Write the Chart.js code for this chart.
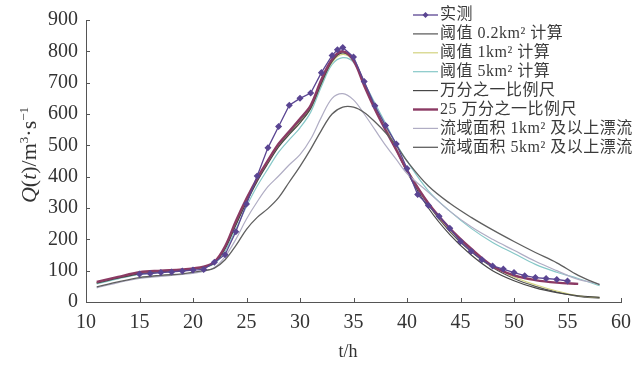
<!DOCTYPE html>
<html><head><meta charset="utf-8">
<script src="https://cdn.jsdelivr.net/npm/chart.js@4/dist/chart.umd.min.js"></script>
<style>html,body{margin:0;padding:0;background:#fff;}#wrap{width:643px;height:366px;position:relative;}</style>
</head><body><div id="wrap"><canvas id="c" width="643" height="366"></canvas></div>
<script>
const xTicks = [10,15,20,25,30,35,40,45,50,55,60];
const yTicks = [0,100,200,300,400,500,600,700,800,900];
const seriesNames = ["实测","阈值 0.2km² 计算","阈值 1km² 计算","阈值 5km² 计算","万分之一比例尺","25 万分之一比例尺","流域面积 1km² 及以上漂流","流域面积 5km² 及以上漂流"];
const obsTime = [15,16,17,18,19,20,21,22,23,24,25,26,27,28,29,30,31,32,33,33.5,34,35,36,37,38,39,40,41,42,43,44,45,46,47,48,49,50,51,52,53,54,55];
const obsQ    = [89,91,94,96,99,102,104,127,151,224,313,402,492,560,628,650,667,732,787,805,812,782,704,626,563,504,426,343,308,274,235,193,162,135,115,105,94,84,78,75,72,67];
const simTime = [11,13,15,17,19,21,22,23,24,25,26,27,28,29,30,31,32,33,34,35,36,37,38,39,40,42,44,46,48,50,52,54,56,58];
const qT02  = [62,78,92,98,103,112,125,172,248,322,390,448,500,540,578,622,700,770,800,775,700,625,555,490,420,310,225,160,110,75,50,32,18,12];
const qT1   = [62,78,92,98,103,112,126,175,252,325,390,445,497,536,573,618,695,765,790,770,700,625,555,490,425,315,230,165,115,80,55,35,20,14];
const qT5   = [58,74,88,95,100,110,122,162,232,305,370,425,478,518,556,606,688,758,780,765,700,635,570,505,450,355,290,235,190,155,120,95,75,52];
const qS1w  = [60,76,90,97,102,110,124,170,245,318,385,442,495,535,572,618,698,768,795,770,695,620,550,485,415,300,215,150,100,68,45,30,20,15];
const qS25w = [64,80,95,100,104,113,128,178,258,330,395,452,505,545,585,628,710,775,800,770,690,615,548,485,420,315,235,170,115,85,70,62,58,null];
const qA1   = [45,62,75,82,88,98,110,145,200,265,320,368,402,438,470,520,590,650,665,645,600,550,500,455,410,350,290,240,200,165,130,100,72,58];
const qA5   = [48,64,78,85,90,100,108,135,180,232,270,298,333,383,433,488,548,600,622,622,605,575,540,500,450,370,315,270,230,193,158,125,85,55];

const pts = (xs, ys) => xs.map((x, i) => ({x: x, y: ys[i]})).filter(p => p.y !== null);
const colors = ["#5a4592","#555555","#d2d27e","#86c8c8","#474747","#8b3a64","#b0adc4","#5f5f5f"];
const widths = [1.3,1.2,1.2,1.2,1.2,2.4,1.2,1.3];
const sims = [qT02,qT1,qT5,qS1w,qS25w,qA1,qA5];

const datasets = [{
  label: seriesNames[0], data: pts(obsTime, obsQ), borderColor: colors[0], backgroundColor: colors[0],
  borderWidth: widths[0], pointStyle: 'rectRot', pointRadius: 2.6, tension: 0, order: 0
}];
sims.forEach((s, i) => {
  datasets.push({label: seriesNames[i+1], data: pts(simTime, s), borderColor: colors[i+1],
    backgroundColor: colors[i+1], borderWidth: widths[i+1], pointRadius: 0, tension: 0.35, order: 8 - i});
});

const SERIF = '"Liberation Serif", "Noto Sans CJK SC", serif';

const decor = {
  id: 'decor',
  afterDraw(chart) {
    const ctx = chart.ctx, ca = chart.chartArea;
    const xs = chart.scales.x, ys = chart.scales.y;
    ctx.save();
    ctx.strokeStyle = '#555'; ctx.lineWidth = 1;
    xTicks.forEach(v => { const px = Math.round(xs.getPixelForValue(v)) + 0.5;
      ctx.beginPath(); ctx.moveTo(px, ca.bottom); ctx.lineTo(px, ca.bottom - 4); ctx.stroke(); });
    yTicks.forEach(v => { const py = Math.round(ys.getPixelForValue(v)) + 0.5;
      ctx.beginPath(); ctx.moveTo(ca.left, py); ctx.lineTo(ca.left + 4, py); ctx.stroke(); });
    // legend
    const lx = 413, ly = 15, step = 18.9;
    ctx.textBaseline = 'middle';
    ctx.font = '16px ' + SERIF;
    if ('letterSpacing' in ctx) ctx.letterSpacing = '0.5px';
    seriesNames.forEach((n, i) => {
      const y = ly + i * step;
      ctx.strokeStyle = colors[i]; ctx.lineWidth = widths[i];
      ctx.beginPath(); ctx.moveTo(lx, y); ctx.lineTo(lx + 25, y); ctx.stroke();
      if (i === 0) { ctx.fillStyle = colors[0]; ctx.beginPath();
        ctx.moveTo(lx+12.5, y-3); ctx.lineTo(lx+15.5, y); ctx.lineTo(lx+12.5, y+3); ctx.lineTo(lx+9.5, y); ctx.fill(); }
      ctx.fillStyle = '#3a3a3a';
      ctx.fillText(n, lx + 27, y);
    });
    if ('letterSpacing' in ctx) ctx.letterSpacing = '0px';
    // y axis title
    const segs = [['Q','italic 22px'],['(','22px'],['t','italic 22px'],[')/m','22px'],['3','13px',-8],['·s','22px'],['−1','13px',-8]];
    let total = 0;
    segs.forEach(s => { ctx.font = s[1] + ' ' + SERIF; total += ctx.measureText(s[0]).width; });
    ctx.translate(29, 155); ctx.rotate(-Math.PI/2);
    let x = -total/2;
    ctx.fillStyle = '#333'; ctx.textBaseline = 'alphabetic'; ctx.textAlign = 'left';
    segs.forEach(s => { ctx.font = s[1] + ' ' + SERIF; ctx.fillText(s[0], x, 7 + (s[2]||0)); x += ctx.measureText(s[0]).width; });
    ctx.restore();
    ctx.save();
    ctx.font = '18px ' + SERIF; ctx.fillStyle = '#333'; ctx.textAlign = 'center'; ctx.textBaseline = 'middle';
    ctx.fillText('t/h', 348, 352);
    ctx.restore();
  }
};

new Chart(document.getElementById('c'), {
  type: 'line',
  data: { datasets },
  options: {
    responsive: false, animation: false, devicePixelRatio: 1,
    layout: { padding: { left: 0, top: 14, right: 22, bottom: 0 } },
    plugins: { legend: { display: false }, tooltip: { enabled: false } },
    scales: {
      x: { type: 'linear', min: 10, max: 60,
        afterBuildTicks: s => { s.ticks = xTicks.map(v => ({value: v})); },
        afterFit: s => { s.height = 64; },
        ticks: { font: { family: SERIF, size: 20 }, color: '#333', padding: 9, maxRotation: 0, autoSkip: false },
        grid: { display: false, drawTicks: false },
        border: { display: true, color: '#555', width: 1 } },
      y: { min: 0, max: 900,
        afterBuildTicks: s => { s.ticks = yTicks.map(v => ({value: v})); },
        afterFit: s => { s.width = 86; },
        ticks: { font: { family: SERIF, size: 20 }, color: '#333', padding: 8, autoSkip: false },
        grid: { display: false, drawTicks: false },
        border: { display: true, color: '#555', width: 1 } }
    }
  },
  plugins: [decor]
});
</script></body></html>
